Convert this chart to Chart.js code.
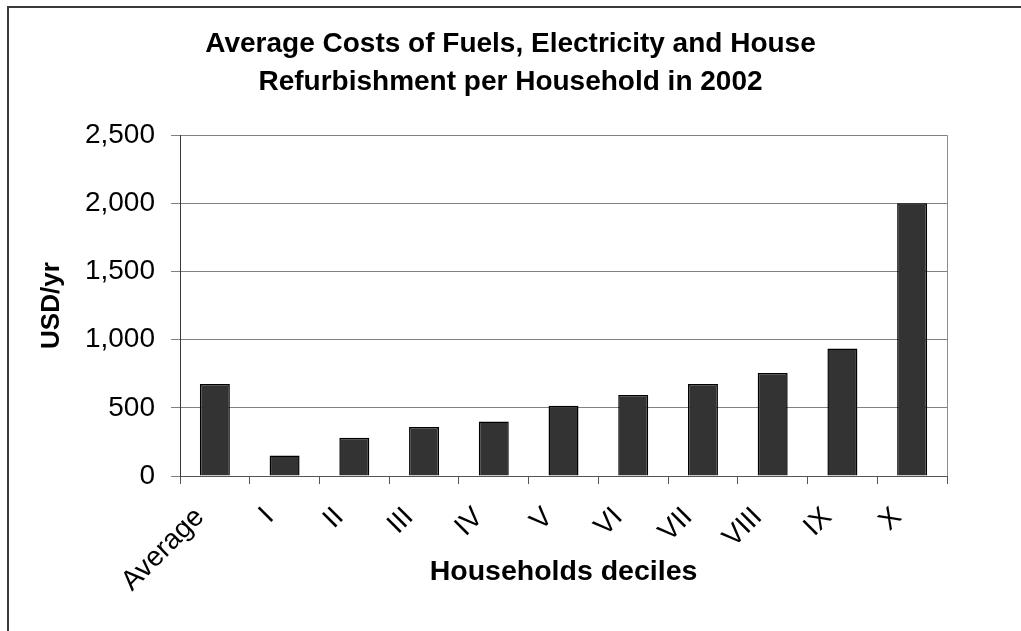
<!DOCTYPE html>
<html>
<head>
<meta charset="utf-8">
<title>Household energy costs</title>
<script src="https://cdn.jsdelivr.net/npm/chart.js@4/dist/chart.umd.min.js"></script>
<style>
  html, body { margin: 0; padding: 0; background: #fff; overflow: hidden; }
  .wrap { position: relative; width: 1021px; height: 631px; }
  .frame {
    position: absolute; left: 7px; top: 6px; width: 1100px; height: 700px;
    border-left: 2px solid #3a3a3a; border-top: 2px solid #3a3a3a;
    pointer-events: none;
  }
</style>
</head>
<body>
<div class="wrap">
  <canvas id="costChart" width="1021" height="631"></canvas>
  <div class="frame"></div>
</div>
<script>
// deciles and yearly cost per household (USD)
const deciles = ["Average", "I", "II", "III", "IV", "V", "VI", "VII", "VIII", "IX", "X"];
const costs = [675, 150, 280, 360, 400, 515, 595, 675, 755, 935, 2000];
const yMax = 2500;
const yStep = 500;

const FONT = "'Liberation Sans', Arial, Helvetica, sans-serif";

// grey border on the right side of the plot
const plotFrame = {
  id: "plotFrame",
  afterDatasetsDraw(chart) {
    const { ctx, chartArea } = chart;
    ctx.save();
    ctx.strokeStyle = "#8c8c8c";
    ctx.lineWidth = 1;
    ctx.beginPath();
    ctx.moveTo(Math.round(chartArea.right) + 0.5, chartArea.top);
    ctx.lineTo(Math.round(chartArea.right) + 0.5, chartArea.bottom);
    ctx.stroke();
    ctx.restore();
  },
};

const ctx = document.getElementById("costChart").getContext("2d");
new Chart(ctx, {
  type: "bar",
  data: {
    labels: deciles,
    datasets: [
      {
        label: "USD/yr",
        data: costs,
        backgroundColor: "#333333",
        borderColor: "#000000",
        borderWidth: 1.5,
        barPercentage: 0.43,
        categoryPercentage: 1,
      },
    ],
  },
  options: {
    responsive: false,
    animation: false,
    layout: { padding: 0 },
    plugins: {
      legend: { display: false },
      tooltip: { enabled: false },
      title: {
        display: true,
        text: [
          "Average Costs of Fuels, Electricity and House",
          "Refurbishment per Household in 2002",
        ],
        color: "#000",
        font: { family: FONT, size: 28, weight: "bold", lineHeight: 1.36 },
        padding: { top: 25, bottom: 34 },
      },
    },
    scales: {
      x: {
        afterFit(scale) {
          scale.height = 155;
        },
        grid: {
          drawOnChartArea: false,
          drawTicks: true,
          tickLength: 8,
          tickColor: "#555",
          offset: true,
        },
        border: { display: true, color: "#555", width: 1 },
        ticks: {
          autoSkip: false,
          minRotation: 45,
          maxRotation: 45,
          labelOffset: -15,
          padding: 17,
          color: "#000",
          font: { family: FONT, size: 28 },
        },
        title: {
          display: true,
          text: "Households deciles",
          color: "#000",
          font: { family: FONT, size: 28.5, weight: "bold" },
          padding: { top: 0, bottom: 42 },
        },
      },
      y: {
        min: 0,
        max: yMax,
        afterFit(scale) {
          scale.width = 180;
        },
        grid: {
          color: "#808080",
          lineWidth: 1,
          tickLength: 9,
          tickColor: "#808080",
        },
        border: { display: true, color: "#3a3a3a", width: 1 },
        ticks: {
          stepSize: yStep,
          padding: 16,
          color: "#000",
          font: { family: FONT, size: 28 },
          callback: (v) => Number(v).toLocaleString("en-US"),
        },
        title: {
          display: true,
          text: "USD/yr",
          color: "#000",
          font: { family: FONT, size: 26, weight: "bold" },
          padding: { top: 36, bottom: 0 },
        },
      },
      // empty margin on the right of the plot
      yRight: {
        position: "right",
        display: true,
        min: 0,
        max: yMax,
        afterFit(scale) {
          scale.width = 74;
        },
        grid: { display: false },
        border: { display: false },
        ticks: { display: false },
      },
    },
  },
  plugins: [plotFrame],
});
</script>
</body>
</html>
